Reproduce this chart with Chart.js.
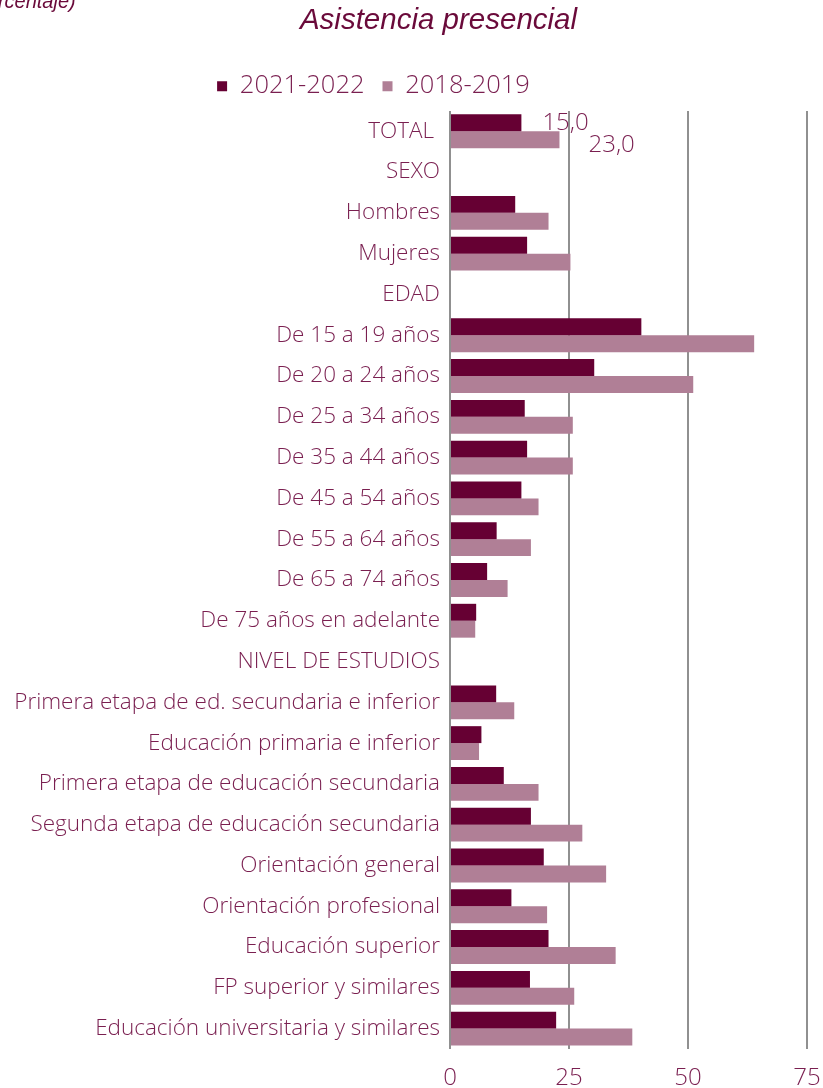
<!DOCTYPE html>
<html>
<head>
<meta charset="utf-8">
<script src="https://cdn.jsdelivr.net/npm/chart.js@4/dist/chart.umd.min.js"></script>
<style>
  html, body { margin: 0; padding: 0; background: #ffffff; overflow: hidden; }
  #wrap { position: relative; width: 823px; height: 1088px; }
  #cap { position: absolute; left: -31px; top: -9px; font: italic 20px/1 "Liberation Sans", Arial, sans-serif; color: #6a0a3a; white-space: nowrap; }
</style>
</head>
<body>
<div id="wrap">
  <canvas id="c" width="823" height="1088"></canvas>
  <span id="cap">(porcentaje)</span>
</div>
<script>
const categories = ["TOTAL ", "SEXO", "Hombres", "Mujeres", "EDAD", "De 15 a 19 años", "De 20 a 24 años", "De 25 a 34 años", "De 35 a 44 años", "De 45 a 54 años", "De 55 a 64 años", "De 65 a 74 años", "De 75 años en adelante", "NIVEL DE ESTUDIOS", "Primera etapa de ed. secundaria e inferior", "Educación primaria e inferior", "Primera etapa de educación secundaria", "Segunda etapa de educación secundaria", "Orientación general", "Orientación profesional", "Educación superior", "FP superior y similares", "Educación universitaria y similares"];
const series2122 = [15.0, null, 13.7, 16.2, null, 40.2, 30.3, 15.7, 16.2, 15.0, 9.8, 7.8, 5.5, null, 9.7, 6.6, 11.3, 17.0, 19.7, 12.9, 20.7, 16.8, 22.3];
const series1819 = [23.0, null, 20.7, 25.3, null, 63.9, 51.1, 25.8, 25.8, 18.6, 17.0, 12.1, 5.3, null, 13.5, 6.1, 18.6, 27.8, 32.8, 20.4, 34.8, 26.1, 38.3];
const seriesNames = ["2021-2022", "2018-2019"];
const totalLabels = ["15,0", "23,0"];
const xTicks = [0, 25, 50, 75];
const titleText = "Asistencia presencial";

const TEXT = "#7a1f50";
const DARK = "#660033";
const LIGHT = "#b07f96";
const FONT = "'Open Sans', Lato, sans-serif";

const shiftPlugin = {
  id: 'shift',
  afterLayout(chart) {
    const lg = chart.legend, tb = chart.titleBlock;
    if (lg) { lg.left -= 30; lg.right -= 30; lg.top -= 2; lg.bottom -= 2; }
    if (tb) { tb.left += 35; tb.right += 35; }
  }
};

const totalLabelPlugin = {
  id: 'totalLabels',
  afterDatasetsDraw(chart) {
    const ctx = chart.ctx;
    ctx.save();
    ctx.font = "300 24px " + FONT;
    ctx.fillStyle = TEXT;
    ctx.textBaseline = 'middle';
    ctx.textAlign = 'left';
    const offs = [[21, 0], [29, 5]];
    [0, 1].forEach(di => {
      const el = chart.getDatasetMeta(di).data[0];
      ctx.fillText(totalLabels[di], el.x + offs[di][0], el.y + offs[di][1]);
    });
    ctx.restore();
  }
};

new Chart(document.getElementById('c'), {
  type: 'bar',
  data: {
    labels: categories,
    datasets: [
      { label: seriesNames[0], data: series2122, backgroundColor: DARK, categoryPercentage: 0.83, barPercentage: 1 },
      { label: seriesNames[1], data: series1819, backgroundColor: LIGHT, categoryPercentage: 0.83, barPercentage: 1 }
    ]
  },
  options: {
    indexAxis: 'y',
    responsive: false,
    animation: false,
    layout: { padding: { left: 0, right: 16, top: 0, bottom: 0 } },
    plugins: {
      title: {
        display: true, text: titleText, color: "#6a0a3a",
        font: { family: "'Liberation Sans', Arial, sans-serif", size: 29.5, style: 'italic', weight: 'normal' },
        padding: { top: 3, bottom: 19 }
      },
      legend: {
        display: true, position: 'top',
        labels: { color: TEXT, font: { family: FONT, size: 25.5, weight: 300 }, boxWidth: 10, boxHeight: 10, padding: 18 }
      },
      tooltip: { enabled: false }
    },
    scales: {
      x: {
        min: 0, max: 75,
        z: 1,
        afterBuildTicks: (s) => { s.ticks = xTicks.map(v => ({ value: v })); },
        afterFit: (s) => { s.height = 39; s.paddingRight = 0; s.paddingLeft = 0; },
        grid: { color: 'rgba(70,70,70,0.6)', lineWidth: 2, drawTicks: false },
        border: { display: false },
        ticks: { color: TEXT, font: { family: FONT, size: 24, weight: 300 }, padding: 15 }
      },
      y: {
        afterFit: (s) => { s.width = 450; },
        grid: { display: false, drawTicks: false },
        border: { display: false },
        ticks: { color: TEXT, font: { family: FONT, size: 22.5, weight: 300 }, padding: 10, autoSkip: false }
      }
    }
  },
  plugins: [shiftPlugin, totalLabelPlugin]
});
</script>
</body>
</html>
